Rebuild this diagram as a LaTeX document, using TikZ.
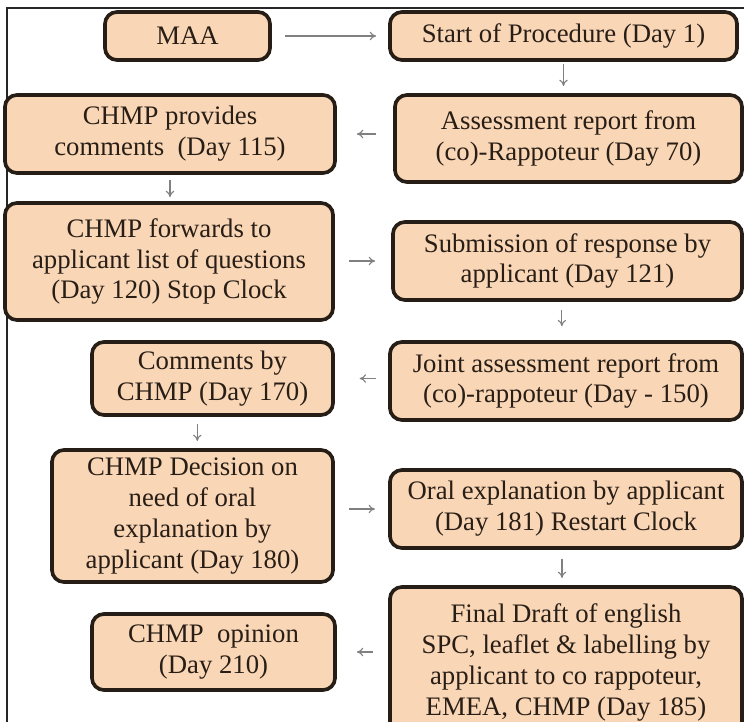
\documentclass[tikz,border=0pt]{standalone}
\usepackage{fontspec}
\setmainfont{Liberation Serif}
\usepackage{xcolor}
\usetikzlibrary{arrows.meta}
\definecolor{peach}{RGB}{249,214,182}
\definecolor{edge}{RGB}{38,30,22}
\definecolor{ink}{RGB}{40,30,22}

\begin{document}
\begin{tikzpicture}[x=0.025cm, y=-0.025cm,
    stage/.style={draw=edge, line width=2.6pt, fill=peach, rounded corners=0.3cm,
        align=center, text=ink, inner sep=0pt, font=\fontsize{19}{22}\selectfont},
    flow/.style={draw=gray, line width=0.8pt, -{To[length=4.5pt,width=6pt]}}]
    \useasboundingbox (0,0) rectangle (744,722);
    \clip (0,0) rectangle (744,722);

    % Frame
    \draw [line width=1.2pt, black!85] (7,740) -- (7,8) -- (750,8);

    % Left column
    \node[stage, minimum width=4.125cm, minimum height=1.2cm] (maa) at (187.5,36) {MAA};
    \node[stage, minimum width=8.25cm, minimum height=1.95cm] (provides) at (170,134) {CHMP provides\\comments\ \ (Day 115)};
    \node[stage, minimum width=8.2cm, minimum height=2.925cm] (forwards) at (169,261.5) {CHMP\ forwards to\\applicant list of questions\\(Day 120) Stop Clock};
    \node[stage, minimum width=6.025cm, minimum height=1.825cm] (comments) at (212.5,378.5) {Comments by\\CHMP (Day 170)};
    \node[stage, minimum width=7.025cm, minimum height=3.3cm] (decision) at (192.5,516) {CHMP Decision on\\need of oral\\explanation by\\applicant (Day 180)};
    \node[stage, minimum width=6.075cm, minimum height=1.9cm] (opinion) at (213.5,652) {CHMP\ \ opinion\\(Day 210)};

    % Right column
    \node[stage, minimum width=8.675cm, minimum height=1.2cm] (start) at (563.5,36) {Start of Procedure (Day 1)};
    \node[stage, minimum width=8.675cm, minimum height=2.175cm] (assess) at (568.5,138.5) {Assessment report from\\(co)-Rappoteur (Day 70)};
    \node[stage, minimum width=8.725cm, minimum height=1.95cm] (submit) at (567.5,261) {Submission of response by\\applicant (Day 121)};
    \node[stage, minimum width=8.8cm, minimum height=1.95cm] (joint) at (566,381) {Joint assessment report from\\(co)-rappoteur (Day - 150)};
    \node[stage, minimum width=8.8cm, minimum height=1.95cm] (oral) at (566,509) {Oral explanation by applicant\\(Day 181) Restart Clock};
    \node[stage, minimum width=8.8cm, minimum height=3.775cm] (final) at (566,662.5) {Final Draft of english\\SPC, leaflet \& labelling by\\applicant to co rappoteur,\\EMEA, CHMP (Day 185)};

    % Arrows
    \draw [flow, shorten <=0.33cm, shorten >=0.3cm] (maa) -- (start);
    \draw [flow, shorten <=0.05cm, shorten >=0.18cm] (start.south) -- (start.south |- assess.north);
    \draw [flow, shorten <=0.43cm, shorten >=0.5cm] (assess.west |- provides.east) -- (provides.east);
    \draw [flow, shorten <=0.12cm, shorten >=0.1cm] (provides.south) -- (provides.south |- forwards.north);
    \draw [flow, shorten <=0.35cm, shorten >=0.4cm] (forwards.east |- submit.west) -- (submit.west);
    \draw [flow, shorten <=0.2cm, shorten >=0.35cm] ([xshift=-0.14cm]submit.south) -- ([xshift=-0.14cm]submit.south |- joint.north);
    \draw [flow, shorten <=0.3cm, shorten >=0.62cm] (joint.west |- comments.east) -- (comments.east);
    \draw [flow, shorten <=0.18cm, shorten >=0.18cm] ([xshift=-0.38cm]comments.south) -- ([xshift=-0.38cm]comments.south |- decision.north);
    \draw [flow, shorten <=0.35cm, shorten >=0.33cm] (decision.east |- oral.west) -- (oral.west);
    \draw [flow, shorten <=0.22cm, shorten >=0.18cm] ([xshift=-0.1cm]oral.south) -- ([xshift=-0.1cm]oral.south |- final.north);
    \draw [flow, shorten <=0.38cm, shorten >=0.5cm] (final.west |- opinion.east) -- (opinion.east);
\end{tikzpicture}
\end{document}
